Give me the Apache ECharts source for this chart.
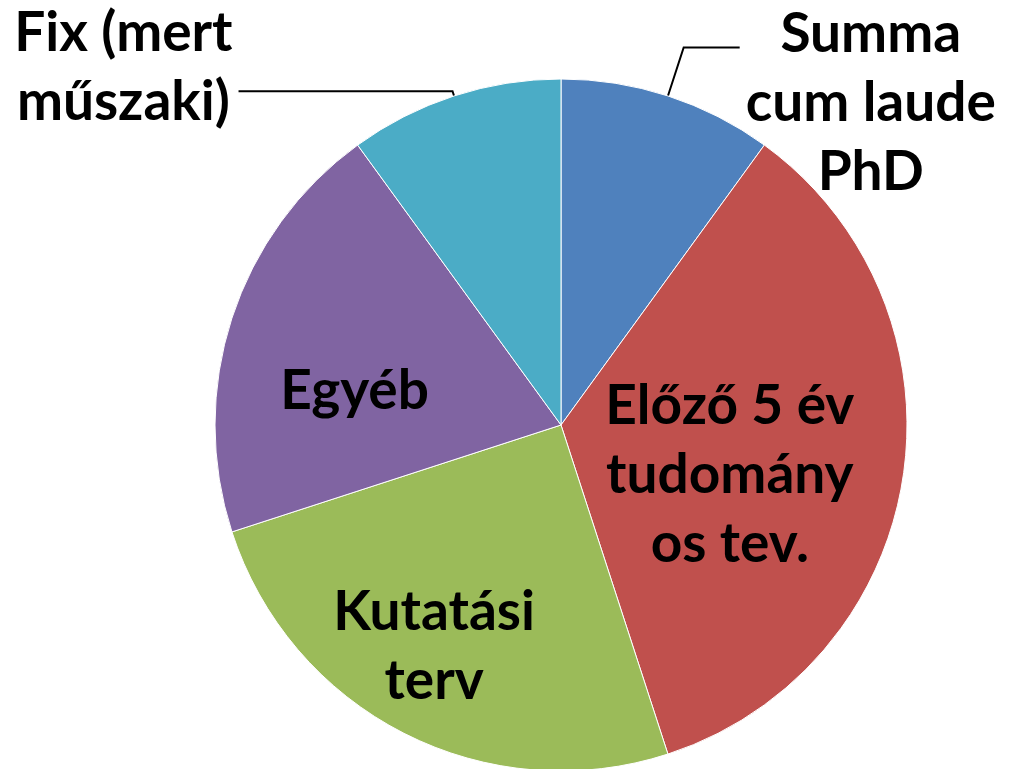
<!DOCTYPE html>
<html>
<head>
<meta charset="utf-8">
<script src="https://cdn.jsdelivr.net/npm/echarts@6/dist/echarts.min.js"></script>
<style>
  html, body { margin: 0; padding: 0; background: #fff; }
  #pie-chart { width: 1011px; height: 769px; }
</style>
</head>
<body>
<div id="pie-chart"></div>
<script>
  // slices, clockwise from 12 o'clock
  const names = ['Summa\ncum laude\nPhD', 'Előző 5 év\ntudomány\nos tev.', 'Kutatási\nterv', 'Egyéb', 'Fix (mert\nműszaki)']
  const values = [10, 35, 25, 20, 10]
  const colors = ['#4F81BD', '#C0504D', '#9BBB59', '#8064A2', '#4BACC6']

  // label placement tweaks (padding nudges text off the default anchor)
  const labelPos = ['outside', 'inside', 'inside', 'inside', 'outside']
  const labelPad = [[112, 0, 0, 0], [46, 10, 0, 0], [130, 94, 0, 0], [42, 78, 0, 0], [0, 0, 46, 0]]
  const lineLen = [[51, 56], null, null, null, [5, 214]]

  const FONT = 'Lato'

  let chart = echarts.init(document.getElementById('pie-chart'))
  let data = names.map(function (name, i) {
    let item = {
      name: name,
      value: values[i],
      itemStyle: { color: colors[i] },
      label: { position: labelPos[i], padding: labelPad[i] }
    }
    if (lineLen[i]) {
      item.labelLine = { show: true, length: lineLen[i][0], length2: lineLen[i][1] }
    }
    return item
  })

  chart.setOption({
    animation: false,
    series: [{
      type: 'pie',
      center: [561, 425],
      radius: 346,
      startAngle: 90,
      clockwise: true,
      avoidLabelOverlap: false,
      itemStyle: { borderColor: '#fff', borderWidth: 1 },
      label: {
        show: true,
        color: '#000',
        distanceToLabelLine: 6,
        formatter: function (p) {
          return p.name.split('\n').map(function (s) { return '{c|' + s + '}' }).join('\n')
        },
        rich: {
          c: {
            align: 'center',
            fontFamily: FONT,
            fontWeight: 'bold',
            fontSize: 55,
            lineHeight: 69,
            color: '#000'
          }
        }
      },
      labelLine: {
        show: true,
        lineStyle: { color: '#000', width: 2 }
      },
      emphasis: { disabled: true },
      data: data
    }]
  })
</script>
</body>
</html>
